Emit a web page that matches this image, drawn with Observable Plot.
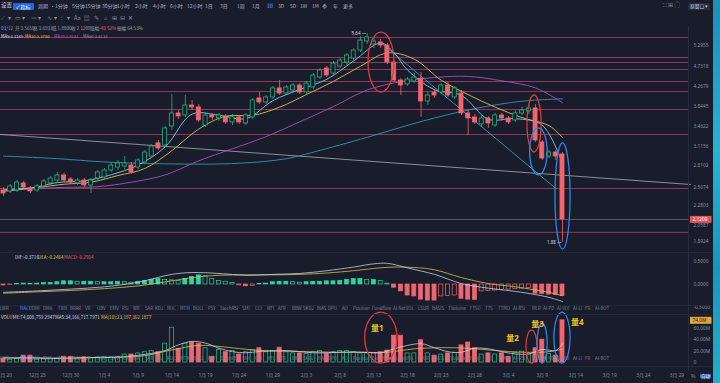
<!DOCTYPE html>
<html><head><meta charset="utf-8">
<script src="https://cdn.jsdelivr.net/npm/d3@7"></script>
<script src="https://cdn.jsdelivr.net/npm/@observablehq/plot@0.6"></script>
<style>
html,body{margin:0;padding:0;background:#181c2b;}
#root{position:relative;width:720px;height:383px;overflow:hidden;background:#181c2b;font-family:"Noto Sans CJK SC","Noto Sans",sans-serif;color:#9097ab;}
.t{position:absolute;white-space:nowrap;line-height:1;}
#root svg{position:absolute;left:0;overflow:visible;}
</style></head><body><div id="root"></div>
<script>
// ---------------- DATA ----------------
const firstDay = "2023-12-20";
const open = [2.470,2.457,2.470,2.563,2.496,2.470,2.523,2.563,2.603,2.673,2.617,2.563,2.603,2.536,2.631,2.645,2.744,2.787,2.802,2.817,
2.787,2.862,2.953,3.164,3.130,3.459,3.704,3.665,3.863,3.823,3.477,3.665,3.608,3.627,3.533,3.627,3.514,3.627,4.008,3.925,
4.029,4.225,4.114,4.180,4.291,4.136,4.247,4.475,4.693,4.571,4.742,4.843,4.946,5.158,5.410,5.324,5.381,5.296,4.843,4.405,
4.314,4.382,4.451,3.945,4.136,4.136,4.291,4.029,4.114,3.704,3.627,3.496,3.608,3.477,3.665,3.608,3.570,3.704,3.742,3.803,
3.180,2.953,3.016,2.985];
const high = [2.509,2.549,2.603,2.590,2.523,2.549,2.617,2.659,2.716,2.702,2.645,2.631,2.631,2.631,2.744,2.773,2.847,2.892,2.953,2.862,
2.922,3.048,3.147,3.213,3.459,4.093,3.762,4.071,3.966,3.884,3.704,3.704,3.704,3.684,3.684,3.665,3.704,4.008,4.136,4.071,
4.269,4.405,4.291,4.336,4.336,4.382,4.571,4.693,4.742,4.868,4.946,5.077,5.213,5.553,5.641,5.495,5.466,5.353,4.894,4.451,
4.475,4.571,4.596,4.136,4.202,4.336,4.359,4.269,4.180,3.762,3.684,3.665,3.646,3.704,3.704,3.646,3.762,3.823,3.863,3.884,
3.213,3.048,3.048,3.016];
const low = [2.393,2.431,2.444,2.483,2.431,2.444,2.496,2.536,2.576,2.576,2.549,2.536,2.509,2.431,2.603,2.617,2.716,2.744,2.758,2.688,
2.758,2.832,2.922,3.048,3.097,3.387,3.589,3.627,3.762,3.533,3.442,3.570,3.551,3.496,3.477,3.496,3.477,3.589,3.884,3.884,
3.987,4.071,4.071,4.136,4.093,4.093,4.202,4.428,4.475,4.523,4.693,4.767,4.894,5.104,5.324,5.213,5.213,4.792,4.359,4.071,
4.269,4.336,3.627,3.863,4.008,4.093,4.029,3.987,3.665,3.299,3.496,3.442,3.424,3.442,3.551,3.496,3.533,3.665,3.684,3.180,
2.892,2.922,2.892,1.880];
const close = [2.431,2.523,2.576,2.509,2.457,2.523,2.590,2.631,2.673,2.603,2.576,2.603,2.536,2.603,2.716,2.744,2.817,2.847,2.847,2.716,
2.892,3.016,3.113,3.081,3.424,3.704,3.646,3.863,3.823,3.570,3.665,3.627,3.665,3.533,3.627,3.533,3.665,3.966,3.925,4.029,
4.225,4.114,4.247,4.291,4.136,4.336,4.523,4.643,4.523,4.817,4.894,5.024,5.158,5.437,5.524,5.410,5.296,4.843,4.405,4.291,
4.428,4.475,3.945,4.071,4.071,4.291,4.071,4.225,3.704,3.608,3.533,3.608,3.514,3.665,3.608,3.533,3.704,3.762,3.803,3.213,
2.922,3.016,2.953,2.1209];
// volume, millions
const volume = [7,5,6,12,12,5,6,6,7,10,10,6,9,8,9,10,9,10,14,14,
16,18,20,18,33,61,24,33,35,33,25,10,22,18,20,14,18,22,25,18,
20,26,18,16,16,15,18,20,15,18,20,20,18,16,16,16,18,21,47,47,
16,16,39,16,12,14,16,17,30,35,25,14,16,14,16,10,17,19,14,25,
40,15,12,74.0088];
const macdHist = [-0.02,-0.01,0.01,0.02,0.01,0.02,0.03,0.03,0.05,0.07,0.07,0.06,0.06,0.06,0.05,0.05,0.05,0.06,0.05,0.04,
0.06,0.08,0.10,0.12,0.10,0.09,0.08,0.12,0.16,0.20,0.18,0.12,0.08,0.06,0.03,-0.02,-0.04,-0.03,0.01,0.02,
0.05,0.06,0.06,0.05,0.04,0.05,0.06,0.06,0.07,0.07,0.08,0.10,0.12,0.12,0.10,0.10,0.08,0.02,-0.07,-0.15,
-0.24,-0.26,-0.33,-0.35,-0.35,-0.26,-0.25,-0.24,-0.31,-0.33,-0.34,-0.15,-0.14,-0.13,-0.12,-0.11,-0.10,-0.09,-0.08,-0.20,
-0.21,-0.22,-0.23,-0.25];
// moving-average lines (day index, value)
const ma5Day = [0,4,8,12,16,20,24,28,32,36,40,44,48,52,56,58,60,64,68,72,76,80,83];
const ma5Val = [2.46,2.499,2.575,2.598,2.683,2.824,3.105,3.692,3.670,3.605,3.962,4.203,4.432,4.883,5.365,5.096,4.653,4.198,4.072,3.593,3.605,3.481,2.845];
const ma10Day = [0,5,9,13,17,21,25,29,33,37,41,45,49,53,57,61,65,69,73,77,81,83];
const ma10Val = [2.48,2.51,2.552,2.580,2.672,2.773,3.046,3.413,3.652,3.667,3.828,4.093,4.386,4.749,5.093,4.927,4.412,4.089,3.829,3.624,3.474,3.264];
const ma30Day = [0,4,9,14,19,24,29,34,39,44,49,54,59,64,69,74,79,83];
const ma30Val = [2.47,2.49,2.51,2.52,2.58,2.68,2.888,3.076,3.279,3.545,3.841,4.191,4.379,4.475,4.501,4.398,4.237,3.920];
const ma60Day = [0,8,15,25,35,42,47,55,62,70,77,83];
const ma60Val = [2.96,2.92,2.87,2.84,2.85,2.92,3.05,3.30,3.55,3.80,3.95,4.00];
const difDay = [0,5,10,15,20,25,28,32,36,40,44,48,52,55,57,60,64,68,72,76,79,81,83];
const difVal = [-0.17,-0.14,-0.10,-0.05,0.05,0.22,0.26,0.24,0.20,0.22,0.24,0.30,0.38,0.45,0.46,0.36,0.22,0.02,-0.08,-0.15,-0.22,-0.28,-0.37];
const deaDay = [0,5,10,15,20,25,28,32,36,40,44,48,52,55,58,61,64,68,72,76,79,81,83];
const deaVal = [-0.19,-0.16,-0.13,-0.09,-0.03,0.08,0.15,0.20,0.21,0.21,0.22,0.25,0.30,0.35,0.38,0.37,0.32,0.15,0.02,-0.05,-0.12,-0.17,-0.246];
const volMa5Day = [0,4,8,12,16,20,24,26,28,30,32,34,36,38,40,42,44,46,48,50,52,54,56,58,60,62,64,66,68,70,72,74,76,78,80,82,83];
const volMa5Val = [8,8.4,7.2,8.6,9.0,12.6,21,31,37,34,25,19,17,19.4,20.2,21,19,17,17,18,18.4,17.6,17.2,24,30,33,26,19,18,25,24,19,15,15,23,21,33.2];
const volMa10Day = [0,9,13,17,21,25,29,33,37,41,45,49,53,57,61,65,69,73,77,81,83];
const volMa10Val = [8,7.6,8.6,9.0,12,22,30,27,22,20,19,18,18,18,24,26,25,21,18,19,23.2];
// horizontal levels drawn on the price panel
const levels = [5.524,4.972,4.843,4.667,4.382,4.158,3.783,3.316,2.496,1.982];
const lastPrice = 2.1209;
// straight trend lines (day index, price)
const trendDay = [-0.445, 102];
const trendVal = [3.316, 2.549];
const downDay = [56, 82];
const downVal = [5.38, 2.496];
// annotation ellipses (day index span, value span)
const ellDay1 = [54.2, 77.8, 78.2, 81.96];
const ellDay2 = [58.05, 79.9, 80.8, 84.2];
const ellTop = [5.67, 4.071, 3.423, 3.163];
const ellBot = [4.136, 3.016, 2.673, 1.810];
const ellColor = ["#e2383c","#e2383c","#2f86e6","#2f86e6"];
const vEllDay1 = [53.7, 77.65, 79.3, 81.8];
const vEllDay2 = [58.5, 79.3, 80.8, 84.2];
const vEllTop = [87.5, 56, 68, 87.5];
const vEllBot = [-1.8, -1.8, -1.8, -1.8];
const volLabels = ["量1","量2","量3","量4"];
const volLabelDay = [55.5, 75.6, 79.3, 85.2];
const volLabelVal = [59.5, 42, 66.5, 70];
const priceTicks = [5.2955,4.7318,4.2679,3.8445,3.4622,3.1156,2.8102,2.5074,2.2803,2.0587,1.8924];
const macdTicks = [0.5, 0, -0.5];
const volTicks = [0, 20, 40, 60];
const tabs = ["LWR","MACD","DMI","DMA","TRIX","BRAR","VR","OBV","EMV","RSI","WR","SAR","KDJ","ROC","MTM","BOLL","PSY","StochRSI","SMI","CCI","MFI","ATR","BBW","SKDJ","BIAS","DPO","AO","Position","Fundflow","AI-NetVOL","LSUR","BASIS","TVolume","FTSO","TTS","TTMO","AI-RSI","MLR","AI-PD","AI-VOI","AI-LI","FR","AI-BOT"];
const tabX = [0,20,32,43,58,70,85,97,110,122,133,145,155,167,180,193,208,220,242,255,267,278,292,303,317,328,342,353,372,393,418,432,448,470,485,498,513,532,543,557,573,585,595];

// ---------------- SETUP ----------------
const BG = "#181c2b", RED = "#ef6670", GREEN = "#25b280", AXIS = "#8a90a5";
const FONT = "'Noto Sans','Noto Sans CJK SC',sans-serif";
const DAY = 864e5;
const t0 = Date.parse(firstDay + "T00:00:00Z");
const dd = k => new Date(t0 + k * DAY);
const xDomain = [dd(-0.445), dd(101.71)];
const gut1 = dd(102.0), gut2 = dd(105.2);
const candles = close.map((c, i) => ({date: dd(i), open: open[i], high: high[i], low: low[i], close: c, vol: volume[i], up: c >= open[i], hist: macdHist[i], grow: i === 0 || Math.abs(macdHist[i]) >= Math.abs(macdHist[i-1])}));
const series = (days, vals) => days.map((k, i) => ({date: dd(k), v: vals[i]}));
const root = document.getElementById("root");
function add(el, top) { el.style.top = top + "px"; root.appendChild(el); }
function txt(x, y, s, color, size, extra) {
  const d = document.createElement("div"); d.className = "t";
  d.style.left = x + "px"; d.style.top = (y - size * 0.55) + "px";
  d.style.fontSize = size + "px"; d.style.color = color || "#9097ab";
  if (extra) Object.assign(d.style, extra);
  d.textContent = s; root.appendChild(d); return d;
}
const baseStyle = {background: "transparent", fontSize: "4.8px", fontFamily: FONT, color: AXIS, overflow: "visible"};
const body = () => ({x1: d => new Date(+d.date - 0.3 * DAY), x2: d => new Date(+d.date + 0.3 * DAY)});

// ---------------- MAIN PRICE PANEL ----------------
const mainPlot = Plot.plot({
  width: 720, height: 225, marginLeft: 0, marginRight: 32, marginTop: 0, marginBottom: 5,
  style: baseStyle,
  x: {type: "utc", domain: xDomain, axis: null},
  y: {type: "log", domain: [1.801, 5.731], axis: "right", ticks: priceTicks, tickFormat: d => d.toFixed(4), tickSize: 0, tickPadding: 5, label: null},
  marks: [
    Plot.ruleY(levels, {stroke: "#b4466c", strokeOpacity: 0.85, strokeWidth: 0.9}),
    Plot.ruleY([lastPrice], {stroke: "#a9adba", strokeOpacity: 0.55, strokeWidth: 0.8}),
    Plot.line(series(trendDay, trendVal), {x: "date", y: "v", stroke: "#c2c6d2", strokeOpacity: 0.75, strokeWidth: 0.9}),
    Plot.line(series(downDay, downVal), {x: "date", y: "v", stroke: "#3fb3c6", strokeOpacity: 0.85, strokeWidth: 0.9}),
    Plot.line(series(ma60Day, ma60Val), {x: "date", y: "v", stroke: "#3596ad", strokeWidth: 0.9, curve: "catmull-rom"}),
    Plot.line(series(ma30Day, ma30Val), {x: "date", y: "v", stroke: "#a94fb8", strokeWidth: 0.9, curve: "catmull-rom"}),
    Plot.line(series(ma10Day, ma10Val), {x: "date", y: "v", stroke: "#d9bf4f", strokeWidth: 0.9, curve: "catmull-rom"}),
    Plot.line(series(ma5Day, ma5Val), {x: "date", y: "v", stroke: "#86c9e3", strokeWidth: 0.9, curve: "catmull-rom"}),
    Plot.ruleX(candles, {x: "date", y1: "low", y2: "high", stroke: d => d.up ? GREEN : RED, strokeWidth: 0.8}),
    Plot.rect(candles, {...body(), y1: "open", y2: "close", fill: d => d.up ? BG : RED, stroke: d => d.up ? GREEN : RED, strokeWidth: 0.8}),
    Plot.rect(ellDay1.map((k, i) => ({a: dd(k), b: dd(ellDay2[i]), t: ellTop[i], u: ellBot[i], c: ellColor[i]})),
      {x1: "a", x2: "b", y1: "u", y2: "t", rx: 999, ry: 999, fill: "none", stroke: "c", strokeWidth: 1.3}),
    Plot.text([candles[54]], {x: "date", y: "high", text: d => d.high.toFixed(2) + " —", textAnchor: "end", dx: -1, fill: "#d8dbe3", fontSize: 4.5}),
    Plot.text([candles[83]], {x: "date", y: "low", text: d => d.low.toFixed(2) + " —", textAnchor: "end", dx: -1, fill: "#d8dbe3", fontSize: 4.5}),
    Plot.ruleY([lastPrice], {x1: gut1, x2: gut2, stroke: "#e5525c", strokeWidth: 7}),
    Plot.text([lastPrice], {x: gut1, y: d => d, text: d => d.toFixed(4), textAnchor: "start", dx: 2, fill: "#ffffff", fontSize: 4.8})
  ]
});
add(mainPlot, 30);

// ---------------- MACD PANEL ----------------
const macdPlot = Plot.plot({
  width: 720, height: 60, marginLeft: 0, marginRight: 32, marginTop: 2, marginBottom: 2,
  style: baseStyle,
  x: {type: "utc", domain: xDomain, axis: null},
  y: {domain: [-0.522, 0.696], axis: "right", ticks: macdTicks, tickFormat: d => d.toFixed(4), tickSize: 0, tickPadding: 5, label: null},
  marks: [
    Plot.rect(candles, {...body(), y1: 0, y2: "hist", fill: d => d.grow ? (d.hist >= 0 ? "#2fd3a0" : RED) : BG, stroke: d => d.hist >= 0 ? "#2fd3a0" : RED, strokeWidth: 0.7}),
    Plot.line(series(deaDay, deaVal), {x: "date", y: "v", stroke: "#d9bf4f", strokeWidth: 0.8, curve: "catmull-rom"}),
    Plot.line(series(difDay, difVal), {x: "date", y: "v", stroke: "#c7cfe6", strokeWidth: 0.8, curve: "catmull-rom"})
  ]
});
add(macdPlot, 250);

// ---------------- VOLUME PANEL ----------------
const fmtTick = d => d3.utcFormat("%-m")(d) + "月 " + d3.utcFormat("%-d")(d);
const dateTicks = d3.range(0, 101, 5).map(dd);
const volPlot = Plot.plot({
  width: 720, height: 66, marginLeft: 0, marginRight: 32, marginTop: 2, marginBottom: 20,
  style: baseStyle,
  x: {type: "utc", domain: xDomain, ticks: dateTicks, tickFormat: fmtTick, tickSize: 0, tickPadding: 11, label: null},
  y: {domain: [0, 77.2], axis: "right", ticks: volTicks, tickFormat: d => d === 0 ? "0" : d.toFixed(2) + "M", tickSize: 0, tickPadding: 5, label: null},
  marks: [
    Plot.rect(candles, {...body(), y1: 0, y2: "vol", fill: d => d.up ? BG : RED, stroke: d => d.up ? GREEN : RED, strokeWidth: 0.8}),
    Plot.line(series(volMa10Day, volMa10Val), {x: "date", y: "v", stroke: "#d9bf4f", strokeWidth: 0.8, curve: "catmull-rom"}),
    Plot.line(series(volMa5Day, volMa5Val), {x: "date", y: "v", stroke: "#c7cfe6", strokeWidth: 0.8, curve: "catmull-rom"}),
    Plot.rect(vEllDay1.map((k, i) => ({a: dd(k), b: dd(vEllDay2[i]), t: vEllTop[i], u: vEllBot[i], c: ellColor[i]})),
      {x1: "a", x2: "b", y1: "u", y2: "t", rx: 999, ry: 999, fill: "none", stroke: "c", strokeWidth: 1.3}),
    Plot.text(volLabels.map((s, i) => ({s, a: dd(volLabelDay[i]), v: volLabelVal[i]})), {x: "a", y: "v", text: "s", fill: "#f0c21c", fontSize: 8, fontWeight: "bold"}),
    Plot.ruleY([volume[83]], {x1: gut1, x2: gut2, stroke: "#e5a43a", strokeWidth: 7}),
    Plot.text([volume[83]], {x: gut1, y: d => d, text: d => d.toFixed(1) + "M", textAnchor: "start", dx: 2, fill: "#1a1a1a", fontSize: 4.8})
  ]
});
add(volPlot, 316);

// ---------------- FRAME / TEXT ----------------
const strip = document.createElement("div");
Object.assign(strip.style, {position: "absolute", left: "713px", top: "0px", width: "7px", height: "383px", background: "linear-gradient(180deg,#1a8fb8,#23b5cf 40%,#1697b9 70%,#1fb0c8)"});
root.appendChild(strip);
const vline = document.createElement("div");
Object.assign(vline.style, {position: "absolute", left: "688px", top: "26px", width: "1px", height: "345px", background: "#262b3d"});
root.appendChild(vline);
[252, 305, 314, 366].forEach(y => { const h = document.createElement("div"); Object.assign(h.style, {position: "absolute", left: "0px", top: y + "px", width: "712px", height: "1px", background: "#222739"}); root.appendChild(h); });

// toolbar row
txt(1, 6, "设置", "#c8ccd8", 5.5);
txt(13, 6, "✓ 指标", "#ffffff", 5, {background: "#2a62d8", padding: "1px 3px", borderRadius: "1px"});
const periods = [["周期",38],["·",50],["1分钟",55],["5分钟",72],["15分钟",85],["30分钟",102],["1小时",117],["2小时",135],["4小时",153],["6小时",170],["12小时",187],["1日",205],["3日",220],["1周",237],["1月",252],["1D",267],["3D",278],["5D",290],["1W",300],["1M",312],["季",322],["年",333],["更多",343]];
periods.forEach(([s, x]) => txt(x, 6, s, s === "1D" ? "#4f8ef0" : "#aeb3c2", 5, s === "1D" ? {background: "#24304f"} : null));
const icons = [["⟋",1],["▾",8],["▭",15],["▾",22],["═",31],["▾",38],["∿",47],["▾",54],["⫶",61],["▾",67],["Aa",74],["▤",84],["✎",94],["⌂",104],["⊞",112],["⊟",120],["✕",128]];
icons.forEach(([s, x]) => txt(x, 19, s, "#8d92a4", 5.5));
txt(1, 28.5, "03/12", "#9aa0b2", 4.6);
const ohlc = [["开 3.5659",15],["高 3.6933",33],["低 1.8800",52],["收 2.1209",71]];
ohlc.forEach(([s, x]) => txt(x, 28.5, s, "#9aa0b2", 4.6));
txt(90, 28.5, "涨幅", "#9aa0b2", 4.6); txt(99, 28.5, "-40.52%", "#ef5d68", 4.6);
txt(117, 28.5, "振幅 64.53%", "#9aa0b2", 4.6);
txt(1, 36, "MA5:3.1145", "#dfe3ee", 4.2);
txt(25, 36, "MA10:3.3780", "#e0c552", 4.2);
txt(54, 36, "MA30:3.9141", "#b25bc2", 4.2);
txt(83, 36, "MA60:3.6138", "#8e96ad", 4.2);
txt(663, 6, "⛶  ⊞  ◯", "#8d92a4", 5.5);
txt(688, 6, "原窗口 ▾", "#c8ccd8", 4.8, {background: "#262c40", padding: "1px 2px", borderRadius: "1px"});
// MACD legend
txt(15, 258, "DIF:-0.3716", "#d6dbe8", 4.6);
txt(38, 258, "DEA:-0.2464", "#e0c552", 4.6);
txt(64, 258, "MACD:-0.2504", "#ef5d68", 4.6);
// tab rows
[308, 358].forEach(y => tabs.forEach((s, i) => txt(tabX[i], y, s, s === "MACD" ? "#4f8ef0" : "#7d8397", 4.4)));
// volume legend
txt(1, 318, "VOLUME:74,008,759.2947", "#d6dbe8", 4.6);
txt(55, 318, "MA5:34,166,717.7971", "#d6dbe8", 4.6);
txt(101, 318, "MA(10):23,197,362.1877", "#e0c552", 4.6);
// bottom right controls
txt(691, 376, "%", "#9aa0b2", 5);
txt(700, 376, "自动", "#ffffff", 4.5, {background: "#2a62d8", padding: "0 1px"});
</script></body></html>
